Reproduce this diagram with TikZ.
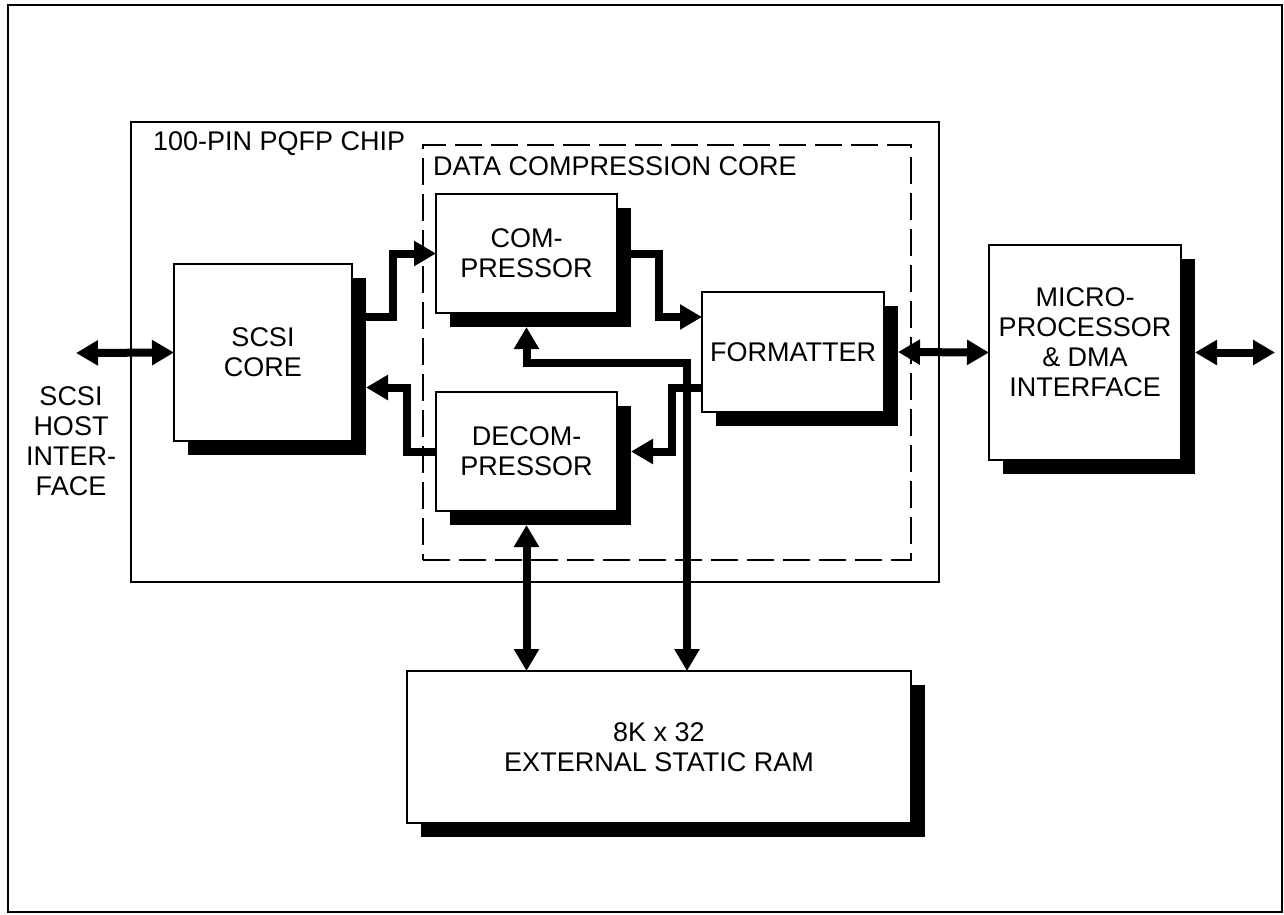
\documentclass[tikz,border=0pt]{standalone}
\usepackage{fontspec}
\setmainfont{Liberation Sans}
\usetikzlibrary{arrows.meta,shadows}
\tikzset{>={Triangle[width=24pt,length=22pt]}}
\tikzset{
  blk/.style={draw, fill=white, line width=2.2pt, inner sep=0pt, outer sep=0pt,
    align=center, font=\fontsize{27}{30}\selectfont,
    drop shadow={shadow xshift=14pt, shadow yshift=-14pt, fill=black, opacity=1}},
  bus/.style={line width=8pt},
  frame/.style={draw, line width=2.5pt, inner sep=0pt, outer sep=0pt},
  lbl/.style={anchor=base west, inner sep=0pt, font=\fontsize{27}{30}\selectfont}
}
\begin{document}
\begin{tikzpicture}[x=1pt,y=-1pt]
  \useasboundingbox (0,0) rectangle (1284,914);

  %% frames
  \node[frame, minimum width=1274pt, minimum height=907pt] (page) at (645,458.5) {};
  \node[frame, minimum width=808pt, minimum height=460pt] (chip) at (535,352) {};
  \node[frame, line width=2pt, dash pattern=on 27pt off 9pt,
    minimum width=488pt, minimum height=415pt] (dcc) at (667,352.5) {};
  \node[lbl] (chiplbl) at ([xshift=22pt,yshift=-28pt]chip.north west) {100-PIN PQFP CHIP};
  \node[lbl] (dcclbl) at ([xshift=10pt,yshift=-30pt]dcc.north west) {DATA COMPRESSION CORE};

  %% blocks
  \node[blk, minimum width=178pt, minimum height=177pt] (scsi) at (263,352.5) {SCSI\\CORE};
  \node[blk, minimum width=181pt, minimum height=119pt] (comp) at (526.5,253.5) {COM-\\PRESSOR};
  \node[blk, minimum width=181pt, minimum height=119pt] (decomp) at (526.5,451.5) {DECOM-\\PRESSOR};
  \node[blk, minimum width=182pt, minimum height=120pt] (fmt) at (793,352) {FORMATTER};
  \node[blk, minimum width=192pt, minimum height=215pt, text depth=20pt] (micro) at (1085,352.5)
  {MICRO-\\PROCESSOR\\\& DMA\\INTERFACE};
  \node[blk, minimum width=504pt, minimum height=152pt] (ram) at (659,747)
  {8K x 32\\EXTERNAL STATIC RAM};

  \node[align=center, inner sep=0pt, font=\fontsize{27}{30}\selectfont] (host) at (71,441.5)
  {SCSI\\HOST\\INTER-\\FACE};
  \coordinate (hostpin) at (76,353);
  \coordinate (sys) at (1275,352.5);

  %% buses
  \draw[bus,<->] (hostpin) -- (scsi.west);
  \draw[bus,->] ([xshift=14pt,yshift=36pt]scsi.east) -| ([xshift=-43pt]comp.west) -- (comp.west); %% scsi -> comp
  \draw[bus,->] (decomp.west) -- ++(-29,0) |- ([xshift=14pt,yshift=-35pt]scsi.east); %% decomp -> scsi
  \draw[bus,->] ([xshift=14pt]comp.east) -| ([xshift=-43pt,yshift=35pt]fmt.west)
  -- ([yshift=35pt]fmt.west); %% comp -> fmt
  \draw[bus,->] ([yshift=-36pt]fmt.west) -- ++(-30,0) |- ([xshift=14pt]decomp.east); %% fmt -> decomp
  \draw[bus,<->] ([yshift=-14pt]comp.south) |- ([xshift=28pt,yshift=308pt]ram.north)
  -- ([xshift=28pt]ram.north); %% comp <-> ram
  \draw[bus,<->] ([yshift=-14pt]decomp.south) -- (ram.north -| decomp.south);
  \draw[bus,<->] ([xshift=14pt]fmt.east) -- (micro.west);
  \draw[bus,<->] ([xshift=14pt]micro.east) -- (sys);

\end{tikzpicture}
\end{document}
